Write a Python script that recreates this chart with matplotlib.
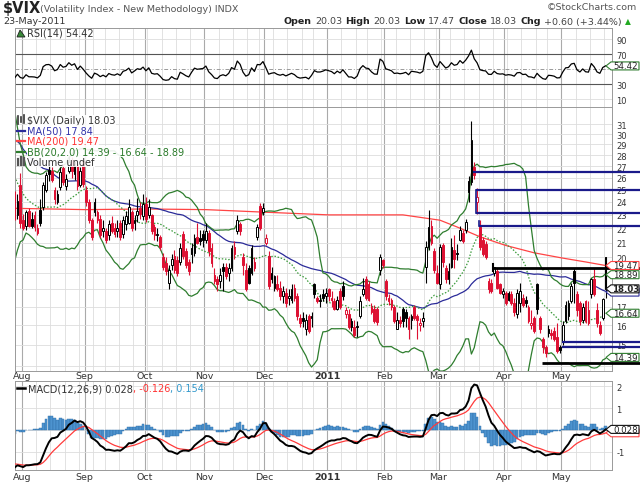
import numpy as np
import pandas as pd
import matplotlib
matplotlib.use("Agg")
import matplotlib.pyplot as plt
from matplotlib.patches import Rectangle, Polygon
from matplotlib.ticker import NullLocator, FixedLocator, FixedFormatter

# ---------------- data ----------------
holidays = ["2010-09-06", "2010-11-25", "2010-12-24", "2011-01-17", "2011-02-21", "2011-04-22"]
first_day, last_day = "2010-07-28", "2011-05-23"

# closes before the first visible day (used only to warm up the indicators)
prefix_close = [31.2, 33.6, 35.3, 45.8, 40.1, 37.4, 35.5, 36.6, 29.7, 32.1,
                35.0, 29.9, 29.5, 35.5, 36.9, 33.7, 33.9, 30.6, 28.8, 28.6, 26.2,
                26.7, 25.0, 24.9, 25.9, 27.1, 27.0, 29.0, 28.5, 29.0, 34.1, 34.5,
                32.9, 30.1, 29.6, 26.8, 25.7, 24.9, 24.4, 24.6, 24.9, 25.1, 26.3,
                25.9, 23.9, 25.6, 24.2, 23.5, 22.7, 23.2]

open_ = ([24.3, 23.0, 25.4] +
         [22.6, 22.2, 23.3, 22.7, 23.0, 22.0, 23.4, 23.6, 25.0, 26.7, 26.6, 25.0, 24.0, 25.2, 26.8, 25.3, 26.6, 27.4, 26.3, 27.2, 25.4, 27.5] +
         [25.0, 24.0, 22.6, 24.0, 23.2, 22.7, 21.8, 21.8, 21.5, 22.4, 22.0, 21.8, 22.4, 21.6, 22.3, 22.4, 23.2, 22.4, 23.0, 23.5, 22.9] +
         [23.8, 23.0, 23.0, 22.1, 21.5, 21.4, 20.0, 19.6, 18.4, 19.5, 20.1, 19.8, 19.7, 21.6, 20.4, 19.7, 20.6, 20.3, 21.4, 21.3, 21.6] +
         [21.2, 21.7, 20.6, 18.9, 18.6, 18.5, 19.4, 19.4, 19.0, 19.3, 20.7, 21.8, 22.3, 20.0, 19.2, 19.3, 19.0, 19.7, 21.4, 23.7, 23.2] +
         [21.0, 20.1, 19.0, 18.1, 18.3, 18.1, 17.6, 17.8, 17.5, 17.4, 18.1, 17.6, 16.4, 16.4, 15.8, 16.5, 16.4, 18.3, 17.5, 17.4, 17.7, 17.6] +
         [18.0, 17.5, 17.3, 16.9, 17.9, 18.2, 16.6, 16.6, 16.2, 15.9, 15.9, 16.5, 17.7, 18.6, 18.3, 17.0, 16.9, 16.9, 19.2, 19.8] +
         [18.5, 17.5, 17.4, 17.0, 15.8, 16.3, 16.9, 16.7, 16.4, 16.3, 17.0, 16.5, 16.0, 16.2, 19.4, 20.7, 22.2, 20.4, 19.0] +
         [18.3, 20.8, 19.3, 18.6, 19.4, 20.5, 20.3, 21.2, 21.7, 21.9, 25.7, 25.6, 26.9, 24.0, 22.1, 21.2, 20.9, 18.5, 18.4, 19.0, 19.1, 18.3, 17.7] +
         [17.8, 17.8, 17.7, 17.2, 16.6, 17.2, 17.5, 17.4, 17.0, 16.0, 16.4, 18.3, 16.4, 15.3, 14.9, 15.8, 15.6, 15.7, 15.4, 14.9] +
         [15.2, 16.2, 16.5, 17.3, 19.1, 17.7, 17.2, 16.3, 17.3, 16.8, 17.7, 18.6, 16.8, 16.0, 16.4, 20.03])
high = ([24.9, 24.6, 26.4] +
        [23.1, 23.4, 23.5, 23.2, 23.3, 22.3, 24.2, 25.6, 26.5, 27.0, 26.9, 25.2, 25.0, 26.9, 27.2, 26.3, 27.9, 27.8, 27.5, 27.5, 26.9, 27.7] +
        [25.3, 24.2, 22.8, 24.3, 23.4, 23.0, 22.6, 22.0, 22.6, 22.9, 22.4, 22.6, 22.6, 22.9, 23.3, 24.2, 23.4, 23.0, 24.3, 24.0, 24.6] +
        [24.4, 24.2, 23.1, 22.3, 22.0, 21.5, 20.3, 20.0, 19.5, 20.2, 20.5, 20.1, 21.0, 21.8, 20.6, 19.9, 21.0, 21.6, 22.4, 21.9, 21.9] +
        [22.4, 21.9, 21.0, 19.3, 18.8, 19.3, 19.6, 19.6, 19.6, 20.8, 21.1, 23.0, 22.5, 20.3, 19.6, 19.5, 20.8, 20.0, 22.3, 23.9, 23.9] +
        [21.6, 20.4, 19.4, 18.9, 18.9, 18.5, 18.2, 18.1, 18.0, 18.3, 18.3, 17.8, 16.6, 16.7, 16.6, 16.6, 16.7, 18.4, 17.6, 17.7, 18.0, 18.1] +
        [18.1, 17.9, 17.5, 17.6, 18.1, 18.5, 17.0, 16.9, 16.4, 16.3, 16.2, 17.6, 18.7, 18.8, 18.5, 17.2, 17.1, 17.0, 20.2, 19.9] +
        [18.6, 17.7, 17.5, 17.1, 16.7, 16.5, 17.0, 16.9, 16.5, 16.6, 17.1, 16.6, 16.4, 16.7, 21.1, 23.4, 22.6, 20.6, 19.5] +
        [20.9, 21.0, 19.5, 19.6, 21.3, 21.5, 20.9, 22.2, 21.9, 22.7, 26.1, 31.3, 27.4, 25.1, 22.6, 21.4, 21.1, 18.7, 18.6, 19.4, 19.3, 18.4, 18.1] +
        [17.9, 17.9, 17.9, 17.5, 18.0, 18.4, 17.7, 17.6, 17.1, 16.8, 16.5, 18.4, 16.5, 15.4, 15.0, 16.0, 15.8, 15.9, 16.1, 15.0] +
        [16.2, 17.3, 17.4, 18.4, 19.3, 17.9, 17.3, 17.2, 17.4, 17.3, 18.7, 19.3, 17.2, 16.2, 17.5, 20.03])
low = ([22.6, 22.7, 22.0] +
       [21.9, 21.9, 22.1, 22.0, 21.8, 21.5, 22.2, 23.4, 24.8, 25.7, 25.6, 23.8, 23.8, 25.0, 25.4, 25.0, 26.4, 26.0, 25.8, 25.0, 25.2, 25.2] +
       [23.7, 22.4, 21.2, 22.9, 22.4, 21.3, 21.4, 21.0, 21.2, 21.7, 21.4, 21.4, 21.2, 21.3, 21.9, 22.3, 21.8, 21.9, 22.5, 22.7, 22.6] +
       [22.5, 22.8, 21.6, 21.2, 21.1, 20.5, 19.2, 18.9, 18.0, 19.2, 19.0, 18.8, 19.5, 19.9, 19.3, 18.9, 19.6, 20.1, 20.9, 20.8, 20.7] +
       [21.0, 20.1, 19.4, 18.3, 17.9, 18.1, 17.9, 18.6, 18.5, 19.1, 19.9, 21.6, 21.5, 18.9, 17.9, 18.3, 18.9, 19.1, 21.2, 21.9, 23.0] +
       [20.8, 18.0, 18.4, 17.9, 17.9, 17.4, 17.2, 17.0, 17.1, 17.2, 17.3, 16.3, 15.9, 15.9, 15.5, 15.6, 15.9, 17.5, 17.2, 17.0, 17.3, 17.2] +
       [17.3, 17.0, 16.8, 16.8, 16.9, 17.4, 16.4, 15.8, 15.7, 15.4, 15.4, 16.4, 17.6, 17.4, 17.3, 16.6, 16.1, 16.0, 18.9, 19.3] +
       [17.4, 17.1, 16.8, 16.1, 15.8, 15.9, 15.9, 15.9, 15.3, 15.8, 16.3, 15.3, 15.7, 15.9, 18.4, 20.5, 20.8, 19.0, 18.3] +
       [18.0, 19.4, 18.4, 18.3, 19.3, 19.3, 19.8, 21.1, 21.0, 21.7, 24.0, 25.4, 25.9, 23.1, 20.5, 20.1, 19.9, 17.8, 17.8, 18.8, 18.0, 17.7, 17.5] +
       [17.1, 17.3, 17.1, 16.5, 16.4, 16.7, 17.0, 17.0, 16.1, 15.8, 15.6, 16.6, 15.6, 14.6, 14.4, 15.4, 15.3, 15.2, 14.6, 14.6] +
       [15.0, 16.1, 16.3, 17.2, 17.2, 16.5, 16.0, 16.1, 16.1, 16.0, 17.5, 17.6, 15.9, 15.5, 16.3, 17.47])
close = ([22.8, 24.1, 22.4] +
         [22.0, 23.2, 22.2, 22.2, 22.1, 21.7, 22.4, 25.4, 26.2, 26.3, 25.8, 24.2, 24.6, 26.5, 25.6, 25.9, 27.4, 26.6, 27.2, 25.3, 26.6, 25.5] +
         [24.0, 22.6, 21.4, 23.2, 22.6, 21.5, 22.0, 21.2, 22.3, 21.8, 21.6, 22.0, 21.4, 22.6, 22.9, 23.6, 22.0, 22.6, 23.3, 23.1, 23.8] +
         [22.7, 23.6, 21.8, 21.5, 21.6, 20.7, 19.4, 19.1, 19.2, 19.9, 19.2, 19.0, 20.6, 20.1, 19.5, 19.1, 20.2, 21.3, 21.0, 21.1, 21.2] +
         [21.8, 20.4, 19.6, 18.5, 18.3, 18.9, 19.1, 18.8, 19.3, 20.6, 20.2, 22.6, 21.8, 19.5, 18.0, 18.4, 20.6, 19.3, 22.1, 22.0, 23.5] +
         [21.3, 18.2, 18.6, 18.8, 18.0, 17.6, 17.9, 17.2, 17.6, 18.0, 17.5, 16.5, 16.1, 16.2, 16.3, 15.7, 16.5, 17.7, 17.3, 17.3, 17.5, 17.8] +
         [17.6, 17.4, 16.9, 17.4, 17.0, 17.6, 16.8, 15.9, 15.9, 15.5, 15.9, 17.3, 18.0, 17.5, 17.4, 16.7, 16.2, 16.15, 20.0, 19.5] +
         [17.6, 17.3, 17.0, 16.2, 16.3, 16.1, 16.2, 16.4, 15.8, 16.5, 16.4, 16.3, 16.1, 16.4, 20.7, 22.1, 21.0, 19.2, 18.4] +
         [20.7, 19.7, 18.6, 19.1, 20.7, 19.9, 20.2, 21.9, 21.1, 22.5, 24.8, 29.4, 26.2, 24.4, 20.7, 20.2, 20.0, 18.0, 17.9, 19.4, 18.1, 17.8, 17.9] +
         [17.2, 17.4, 17.2, 16.7, 17.8, 17.9, 17.1, 17.2, 16.2, 16.1, 15.7, 16.9, 15.8, 14.9, 14.6, 15.6, 15.5, 15.3, 14.7, 14.75] +
         [16.0, 17.1, 17.2, 18.2, 18.4, 16.8, 16.2, 17.0, 16.2, 16.1, 18.6, 17.7, 16.1, 15.6, 17.43, 18.03])

ma200_dates = ["2010-07-28", "2010-09-01", "2010-10-01", "2010-11-01", "2010-12-01", "2011-01-03",
               "2011-02-01", "2011-02-09", "2011-03-01", "2011-03-09", "2011-03-21", "2011-04-01",
               "2011-04-15", "2011-05-02", "2011-05-12", "2011-05-23"]
ma200_vals = [23.5, 23.4, 23.45, 23.4, 23.2, 23.0, 23.0, 23.0, 22.6, 22.1, 21.4, 20.8, 20.3, 19.95, 19.7, 19.47]

# marked levels on the right: (start date, level)
blue_marks = [("2011-03-17", 26.5), ("2011-03-18", 24.95), ("2011-03-18", 23.15), ("2011-03-21", 22.15),
              ("2011-05-02", 15.13), ("2011-05-02", 14.88)]
black_marks = [("2011-03-28", 19.3), ("2011-04-20", 14.15)]

month_labels = ["Aug", "Sep", "Oct", "Nov", "Dec", "2011", "Feb", "Mar", "Apr", "May"]
price_ticks = list(range(14, 32))
price_labels_shown = [15, 16, 17, 20, 21, 22, 23, 24, 25, 26, 27, 28, 29, 30, 31]
rsi_ticks = [10, 30, 50, 70, 90]
rsi_labels_shown = [10, 30, 70, 90]
macd_ticks = [2, 1, 0, -1]
macd_labels_shown = [2, 1, -1]

# ---------------- derived ----------------
dates = pd.bdate_range(first_day, last_day)
dates = dates[~dates.isin(pd.to_datetime(holidays))]
n = len(dates)
assert n == len(close) == len(open_) == len(high) == len(low)
x = np.arange(n)
pos = {d.strftime("%Y-%m-%d"): i for i, d in enumerate(dates)}

allc = pd.Series(prefix_close + close, dtype=float)
npre = len(prefix_close)
ma50 = allc.rolling(50).mean().values[npre:]
bb_mid = allc.rolling(20).mean().values[npre:]
bb_sd = allc.rolling(20).std(ddof=0).values[npre:]
bb_up, bb_lo = bb_mid + 2 * bb_sd, bb_mid - 2 * bb_sd
d = allc.diff().fillna(0)
ag = d.clip(lower=0).ewm(alpha=1 / 14, adjust=False).mean()
al = (-d.clip(upper=0)).ewm(alpha=1 / 14, adjust=False).mean()
rsi = (100 - 100 / (1 + ag / al)).values[npre:]
ema12 = allc.ewm(span=12, adjust=False).mean()
ema26 = allc.ewm(span=26, adjust=False).mean()
macd_s = ema12 - ema26
sig_s = macd_s.ewm(span=9, adjust=False).mean()
macd = macd_s.values[npre:]
sig = sig_s.values[npre:]
hist = macd - sig

# ---------------- figure ----------------
W, H = 640, 485
fig = plt.figure(figsize=(6.4, 4.85), dpi=100)
fig.patch.set_facecolor("white")
L, R = 15, 612
ax_r = fig.add_axes([L / W, 1 - 108 / H, (R - L) / W, (108 - 29) / H])
ax = fig.add_axes([L / W, 1 - 372 / H, (R - L) / W, (372 - 108) / H])
ax_m = fig.add_axes([L / W, 1 - 471 / H, (R - L) / W, (471 - 382) / H])

XL = (0.14, 209.25)
XR = 219.5  # image right edge in day units

month_start = [i for i in range(n) if i > 0 and dates[i].month != dates[i - 1].month]
week_start = [i for i in range(n) if i > 0 and dates[i].weekday() < dates[i - 1].weekday()]

TXT = "#333333"
for a in (ax_r, ax, ax_m):
    a.set_xlim(*XL)
    a.set_xticks([])
    for s in a.spines.values():
        s.set_color("#999999")
        s.set_linewidth(0.7)
    for i in week_start:
        a.axvline(i - 0.5, color="#dddddd", lw=0.6, zorder=0)
    for i in month_start:
        a.axvline(i - 0.5, color="#aaaaaa", lw=0.8, zorder=0)
    a.yaxis.tick_right()
    a.tick_params(axis="y", length=0, labelsize=6.0, pad=3, labelcolor=TXT)

# ---- RSI ----
ax_r.set_ylim(-0.7, 105.3)
for v in rsi_ticks:
    if v in (30, 70):
        ax_r.axhline(v, color="#555555", lw=0.8, zorder=1)
    elif v == 50:
        ax_r.axhline(v, color="#999999", lw=0.7, ls=(0, (4, 2, 1, 2)), zorder=1)
    else:
        ax_r.axhline(v, color="#dddddd", lw=0.6, zorder=0)
ax_r.set_yticks(rsi_labels_shown)
ax_r.set_yticklabels([str(v) for v in rsi_labels_shown])
ax_r.plot(x, rsi, color="black", lw=0.9, zorder=3)

# ---- price ----
ax.set_yscale("log")
ax.set_ylim(13.76, 32.8)
ax.yaxis.set_major_locator(FixedLocator(price_labels_shown))
ax.yaxis.set_major_formatter(FixedFormatter([str(v) for v in price_labels_shown]))
ax.yaxis.set_minor_locator(NullLocator())
for v in price_ticks:
    ax.axhline(v, color="#dddddd", lw=0.6, zorder=0)

ma200_x = [pos[s] for s in ma200_dates]
ax.plot(ma200_x, ma200_vals, color="#ff4444", lw=0.9, zorder=2)
ax.plot(x, ma50, color="#2b2b99", lw=0.9, zorder=2)
ax.plot(x, bb_up, color="#2e7d2e", lw=0.9, zorder=2)
ax.plot(x, bb_lo, color="#2e7d2e", lw=0.9, zorder=2)
ax.plot(x, bb_mid, color="#3a9a3a", lw=0.9, ls=(0, (1.2, 1.4)), zorder=2)

RED = "#dd1133"
prev = [prefix_close[-1]] + close[:-1]
bw = 0.62
for i in range(n):
    o, h, l, c = open_[i], high[i], low[i], close[i]
    col = "black" if c >= prev[i] else RED
    ax.vlines(i, l, h, color=col, lw=0.8, zorder=3)
    lo_b, hi_b = min(o, c), max(o, c)
    if hi_b - lo_b < 0.03:
        hi_b = lo_b + 0.05
    hollow = c > o
    ax.add_patch(Rectangle((i - bw / 2, lo_b), bw, hi_b - lo_b,
                           facecolor="white" if hollow else col, edgecolor=col,
                           lw=0.7, zorder=4))

# marked levels
for sdate, lev in blue_marks:
    ax.plot([pos[sdate] - 0.3, XR], [lev, lev], color="#1a1a8a", lw=1.6, zorder=6, clip_on=False,
            solid_capstyle="butt")
ax.plot([pos["2011-03-18"] - 0.3] * 2, [24.95, 23.15], color="#1a1a8a", lw=1.2, zorder=6)
ax.plot([pos["2011-03-21"] - 0.3] * 2, [22.55, 22.15], color="#1a1a8a", lw=1.2, zorder=6)
for sdate, lev in black_marks:
    ax.plot([pos[sdate] - 0.3, XR], [lev, lev], color="black", lw=2.0, zorder=6, clip_on=False,
            solid_capstyle="butt")
ax.plot([pos["2011-03-28"] - 0.3] * 2, [19.55, 19.1], color="black", lw=1.5, zorder=6)

# ---- MACD ----
ax_m.set_ylim(-1.82, 2.23)
for v in macd_ticks:
    ax_m.axhline(v, color="#dddddd", lw=0.6, zorder=0)
ax_m.set_yticks(macd_labels_shown)
ax_m.set_yticklabels([str(v) for v in macd_labels_shown])
ax_m.bar(x, hist, width=0.95, color="#4d93cf", edgecolor="#2f6ea8", lw=0.3, zorder=2)
ax_m.plot(x, sig, color="#ff3b3b", lw=0.9, zorder=3)
ax_m.plot(x, macd, color="black", lw=1.4, zorder=4)

# ---------------- text ----------------
def ft(px, py, s, **kw):
    kw.setdefault("fontsize", 7)
    kw.setdefault("color", TXT)
    kw.setdefault("va", "center")
    return fig.text(px / W, 1 - py / H, s, **kw)

ft(3, 9, "$VIX", fontsize=10.5, fontweight="bold", color="#222222")
ft(40, 9.5, "(Volatility Index - New Methodology) INDX", fontsize=6.8, color="#555555")
ft(637, 8, "\u00a9StockCharts.com", fontsize=6.8, color="#555555", ha="right")
ft(3, 22, "23-May-2011", fontsize=6.8)

renderer = fig.canvas.get_renderer()
pieces = [("Open", "bold"), ("20.03", "normal"), ("High", "bold"), ("20.03", "normal"),
          ("Low", "bold"), ("17.47", "normal"), ("Close", "bold"), ("18.03", "normal"),
          ("Chg", "bold"), ("+0.60 (+3.44%)", "normal")]
xx = 284
for s, wgt in pieces:
    t = ft(xx, 22, s, fontweight=wgt, fontsize=6.8, color="#222222" if wgt == "bold" else "#444444")
    xx += t.get_window_extent(renderer).width + 3.2
ft(xx, 22, "\u25b2", fontsize=5.5, color="#22aa22")

# month labels
for lab_y in (376.5, 478):
    for i, lab in zip([3] + month_start[1:], month_labels):
        xp = L + (i - 0.5 - XL[0]) / (XL[1] - XL[0]) * (R - L)
        ft(xp, lab_y, lab, ha="center", fontsize=6.8,
           fontweight="bold" if lab == "2011" else "normal")

# legends
BOX = dict(facecolor="white", edgecolor="none", pad=0.3, alpha=0.9)
def legend_line(py, color, label, tcolor):
    fig.add_artist(plt.Line2D([17 / W, 25 / W], [1 - py / H] * 2, color=color, lw=1.6,
                              transform=fig.transFigure, zorder=8))
    ft(27, py, label, color=tcolor, zorder=8, bbox=BOX)

ft(27, 121, "$VIX (Daily) 18.03", zorder=8, bbox=BOX)
for bx, by0, by1 in ((18, 117, 125), (21, 118, 123), (24, 116, 124)):
    fig.add_artist(plt.Line2D([bx / W] * 2, [1 - by0 / H, 1 - by1 / H], color="#333333", lw=1.2,
                              transform=fig.transFigure, zorder=8))
legend_line(131.5, "#2b2b99", "MA(50) 17.84", "#3333aa")
legend_line(142, "#ff4444", "MA(200) 19.47", "#ff3333")
legend_line(152.5, "#2e7d2e", "BB(20,2.0) 14.39 - 16.64 - 18.89", "#2a7a2a")
for bx, by0 in ((18, 160), (21, 158), (24, 159)):
    fig.add_artist(plt.Line2D([bx / W] * 2, [1 - by0 / H, 1 - 166 / H], color="#555555", lw=1.6,
                              transform=fig.transFigure, zorder=8))
ft(27, 163, "Volume undef", zorder=8, bbox=BOX)

# RSI legend
fig.add_artist(Polygon([(17 / W, 1 - 38 / H), (20 / W, 1 - 31 / H), (23 / W, 1 - 35 / H), (25 / W, 1 - 38 / H)],
                       closed=True, facecolor="#3a8a3a", edgecolor="#222222", lw=0.6,
                       transform=fig.transFigure, zorder=8))
ft(27, 34, "RSI(14) 54.42", zorder=8)

# MACD legend
fig.add_artist(plt.Line2D([17 / W, 25 / W], [1 - 389 / H] * 2, color="black", lw=1.8,
                          transform=fig.transFigure, zorder=8))
xx = 28
for s, col in (("MACD(12,26,9) 0.028", "#333333"), (", -0.126", "#ff3333"), (", 0.154", "#3399cc")):
    t = ft(xx, 389, s, color=col, zorder=8)
    xx += t.get_window_extent(renderer).width

# value tags at right
def tag(a, val, text, ec, bold=False, tc="#222222", hh_px=4.0):
    yd = a.transData.transform((XL[1], val))[1]
    yf = yd / fig.bbox.height
    x0, x1, x2 = 606 / W, 611 / W, 639 / W
    hh = hh_px / H
    fig.add_artist(Polygon([(x0, yf), (x1, yf + hh), (x2, yf + hh), (x2, yf - hh), (x1, yf - hh)],
                           closed=True, facecolor="white", edgecolor=ec, lw=0.8,
                           transform=fig.transFigure, zorder=9))
    if text:
        fig.text((x1 + x2) / 2 + 0.5 / W, yf, text, ha="center", va="center", fontsize=6.2,
                 color=tc, fontweight="bold" if bold else "normal", zorder=10)

tag(ax, 19.47, "19.47", "#ff4444")
tag(ax, 18.89, "18.89", "#2e7d2e")
tag(ax, 17.84, "", "#2b2b99")
tag(ax, 18.03, "18.03", "#111111", bold=True)
tag(ax, 16.64, "16.64", "#2e7d2e")
tag(ax, 14.39, "14.39", "#2e7d2e")
tag(ax_r, 54.42, "54.42", "#2e7d2e")
tag(ax_m, -0.126, "", "#ff4444")
tag(ax_m, 0.028, "0.028", "#111111")

fig.savefig("out.png", dpi=100, facecolor="white")
